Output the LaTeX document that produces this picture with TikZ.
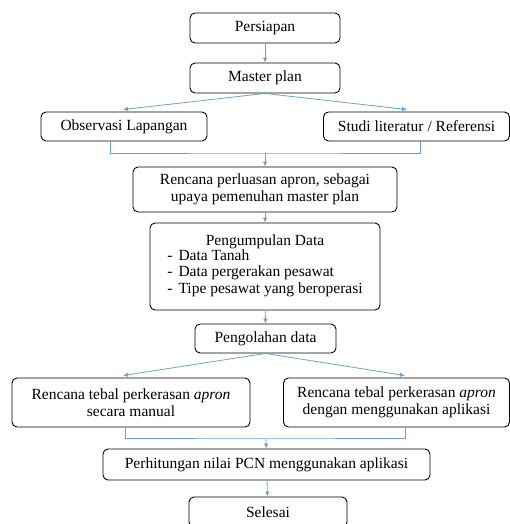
\documentclass[tikz,border=0pt]{standalone}
\usepackage{fontspec}
\setmainfont{Liberation Serif}
\usetikzlibrary{arrows.meta,calc}
\definecolor{linkblue}{RGB}{110,160,205}
\tikzset{
  box/.style={draw,rounded corners=5pt,line width=0.9pt,align=center,inner sep=1pt,minimum height=30pt},
  link/.style={draw=linkblue,line width=0.8pt},
  flow/.style={link,-{Latex[length=5pt,width=4.5pt]}},
}

\begin{document}
\begin{tikzpicture}[x=1pt,y=-1pt,font=\fontsize{15.5}{16.5}\selectfont]
  \useasboundingbox (0,0) rectangle (510,524);
  % boxes
  \node[box,minimum width=150pt] (persiapan) at (265,28) {Persiapan};
  \node[box,minimum width=150pt] (master) at (265,78) {Master plan};
  \node[box,minimum width=166pt,minimum height=29pt] (obs) at (124,126.5) {Observasi Lapangan};
  \node[box,minimum width=186pt,minimum height=29pt] (studi) at (416.5,126.5) {Studi literatur / Referensi};
  \node[box,minimum width=264pt,minimum height=45pt] (rencana) at (265,189.5) {Rencana perluasan apron, sebagai\\upaya pemenuhan master plan};
  \node[box,minimum width=230pt,minimum height=87pt] (kumpul) at (265,266.5)
    {Pengumpulan Data\\[-1pt]
     \begin{tabular}{@{}l@{}}
       -\hspace{6pt}Data Tanah\\
       -\hspace{6pt}Data pergerakan pesawat\\
       -\hspace{6pt}Tipe pesawat yang beroperasi
     \end{tabular}};
  \node[box,minimum width=141pt,minimum height=29pt] (olah) at (265.5,338.5) {Pengolahan data};
  \node[box,minimum width=238pt,minimum height=49pt] (manual) at (131,402.5) {Rencana tebal perkerasan \textit{apron}\\secara manual};
  \node[box,minimum width=226pt,minimum height=49pt] (aplikasi) at (396.5,402.5) {Rencana tebal perkerasan \textit{apron}\\dengan menggunakan aplikasi};
  \node[box,minimum width=327pt,minimum height=31pt] (pcn) at (266.5,464.5) {Perhitungan nilai PCN menggunakan aplikasi};
  \node[box,minimum width=158pt] (selesai) at (268,512) {Selesai};
  % connectors
  \coordinate (joinA) at (265,153);
  \coordinate (joinB) at (266,438);
  \draw[flow] (persiapan) -- (master);
  \draw[flow] (master.south) -- ([xshift=-1pt,yshift=2pt]obs.north);
  \draw[flow] (master.south) -- ([xshift=-9.5pt,yshift=2pt]studi.north);
  \draw[link] ([xshift=-14pt]obs.south) |- (joinA) -| ([xshift=3.5pt]studi.south);
  \draw[flow] (joinA) -- (rencana);
  \draw[flow] (rencana) -- (kumpul);
  \draw[flow] (kumpul) -- (olah);
  \draw[flow] (olah.south) -- ([xshift=-8pt,yshift=2pt]manual.north);
  \draw[flow] (olah.south) -- ([xshift=8.5pt,yshift=2pt]aplikasi.north);
  \draw[link] ([xshift=-6pt]manual.south) |- (joinB) -| ([xshift=8.5pt]aplikasi.south);
  \draw[flow] (joinB) -- (pcn);
  \draw[flow] (pcn) -- (selesai);
\end{tikzpicture}
\end{document}
